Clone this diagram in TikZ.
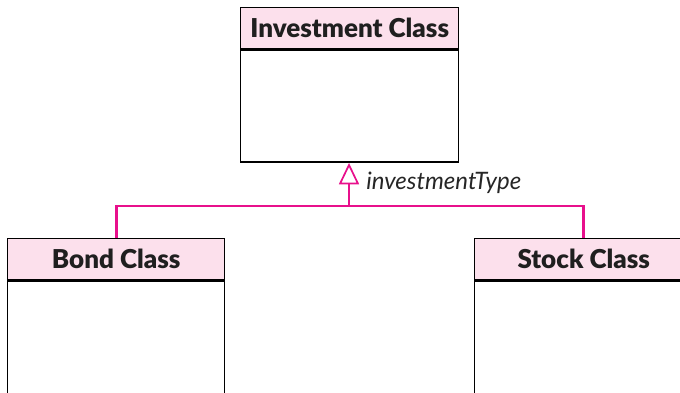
\documentclass[tikz,border=0pt]{standalone}
\usepackage{fontspec}
\setmainfont{Lato}
\newfontfamily\hdrfont{Lato Black}
\usetikzlibrary{arrows.meta}
\definecolor{hdrpink}{HTML}{FCE0EC}
\definecolor{linkpink}{HTML}{E8108C}
\tikzset{
  hdr/.style={draw=black, line width=1.1pt, fill=hdrpink, minimum height=41*0.75pt, inner sep=0pt, font=\hdrfont\fontsize{19.5}{21}\selectfont, text=black!88},
  body/.style={draw=black, line width=1.1pt, fill=white, inner sep=0pt},
  conn/.style={draw=linkpink, line width=2pt},
}
\begin{document}
\begin{tikzpicture}[x=0.75pt, y=-0.75pt]
\useasboundingbox (0,0) rectangle (680,392);
% Investment class
\node[hdr, minimum width=218*0.75pt, anchor=north west] (invh) at (240,7) {Investment Class};
\node[body, minimum width=218*0.75pt, minimum height=112*0.75pt, anchor=north] (invb) at (invh.south) {};
% Bond class
\node[hdr, minimum width=217*0.75pt, anchor=north west] (bondh) at (7,238) {Bond Class};
\node[body, minimum width=217*0.75pt, minimum height=130*0.75pt, anchor=north] (bondb) at (bondh.south) {};
% Stock class
\node[hdr, minimum width=218*0.75pt, anchor=north west] (stockh) at (474,238) {Stock Class};
\node[body, minimum width=218*0.75pt, minimum height=130*0.75pt, anchor=north] (stockb) at (stockh.south) {};
% connectors
\coordinate (join) at (349,206);
\draw[conn] (bondh.north) |- (join) -| (stockh.north);
\draw[conn, -{Triangle[open, width=15pt, length=16pt, fill=white, line width=1.3pt]}] (join) -- (join |- invb.south);
\node[anchor=west, font=\fontsize{18}{20}\selectfont\itshape, text=black!85, inner sep=0pt] (lbl) at (366,183) {investmentType};
\end{tikzpicture}
\end{document}
